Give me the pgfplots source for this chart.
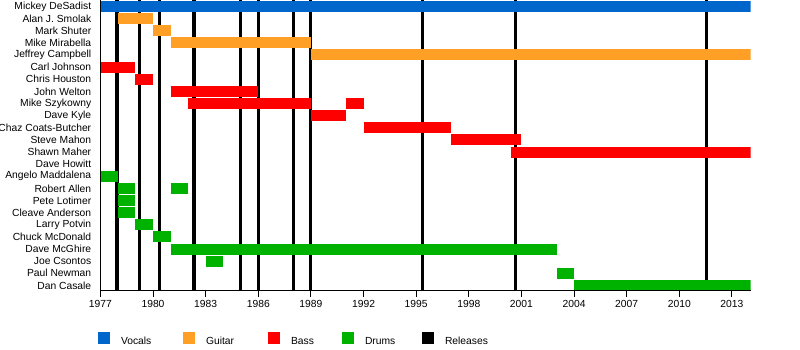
\documentclass[border=0pt]{standalone}
\usepackage{fontspec}
\setmainfont{Liberation Sans}
\usepackage{pgfplots}
\pgfplotsset{compat=1.18}
\definecolor{cVocals}{RGB}{0,102,204}
\definecolor{cGuitar}{RGB}{255,159,37}
\definecolor{cBass}{RGB}{255,0,0}
\definecolor{cDrums}{RGB}{0,178,0}
\newcommand{\lblfont}{\fontsize{10.3}{12}\selectfont}
\begin{document}
\begin{tikzpicture}
\path[use as bounding box] (0,0) rectangle (800pt,350pt);
\begin{axis}[
  at={(100.4pt,349.6pt)}, anchor=north west,
  scale only axis, width=650.3pt, height=290.5pt,
  xmin=1977, xmax=2014.07, ymin=-0.5, ymax=23.45,
  y dir=reverse,
  axis x line*=bottom, axis y line*=left,
  axis line style={black, line width=0.9pt},
  axis on top,
  unbounded coords=jump,
  xtick={1977,1980,...,2013},
  minor x tick num=2,
  tick align=outside,
  major tick length=6pt, minor tick length=3.3pt,
  tick style={black, line width=0.9pt},
  xticklabel style={inner sep=0pt, yshift=-3.3pt, font=\lblfont},
  /pgf/number format/.cd, 1000 sep={}, assume math mode=true,
  /pgfplots/.cd,
  ytick={0,...,23},
  yticklabels={Mickey DeSadist,Alan J. Smolak,Mark Shuter,Mike Mirabella,Jeffrey Campbell,Carl Johnson,Chris Houston,John Welton,Mike Szykowny,Dave Kyle,Chaz Coats-Butcher,Steve Mahon,Shawn Maher,Dave Howitt,Angelo Maddalena,Robert Allen,Pete Lotimer,Cleave Anderson,Larry Potvin,Chuck McDonald,Dave McGhire,Joe Csontos,Paul Newman,Dan Casale},
  ytick style={draw=none},
  yticklabel style={inner sep=0pt, anchor=east, xshift=-3pt, font=\lblfont},
  legend columns=5,
  legend style={draw=none, fill=none, at={(-0.0032,-0.1828)}, anchor=south west,
    inner sep=0pt, outer sep=0pt, column sep=0pt,
    nodes={inner sep=0pt, text depth=0pt}, cells={anchor=base west},
    font=\lblfont},
  legend image code/.code={\fill[#1, draw=none, line width=0pt] (0pt,0pt) rectangle (11.7pt,11.7pt);},
]
% Releases (behind bars)
\addplot[black, line width=3.2pt, forget plot] coordinates {
(1977.95,-0.5) (1977.95,23.45) (nan,nan)
(1979.22,-0.5) (1979.22,23.45) (nan,nan)
(1980.36,-0.5) (1980.36,23.45) (nan,nan)
(1982.34,-0.5) (1982.34,23.45) (nan,nan)
(1984.98,-0.5) (1984.98,23.45) (nan,nan)
(1986.0,-0.5) (1986.0,23.45) (nan,nan)
(1988.0,-0.5) (1988.0,23.45) (nan,nan)
(1988.97,-0.5) (1988.97,23.45) (nan,nan)
(1995.35,-0.5) (1995.35,23.45) (nan,nan)
(2000.65,-0.5) (2000.65,23.45) (nan,nan)
(2011.54,-0.5) (2011.54,23.45)
};
% Vocals
\addplot[cVocals, line width=11pt] coordinates {(1977,0) (2014.07,0)};
\addlegendentry{\hspace*{11pt}\makebox[62.3pt][l]{Vocals}}
% Guitar
\addplot[cGuitar, line width=11pt] coordinates {
(1978,1) (1980,1) (nan,nan)
(1980,2) (1981,2) (nan,nan)
(1981,3) (1989,3) (nan,nan)
(1989,4) (2014.07,4)
};
\addlegendentry{\hspace*{11pt}\makebox[62.3pt][l]{Guitar}}
% Bass
\addplot[cBass, line width=11pt] coordinates {
(1977,5) (1979,5) (nan,nan)
(1979,6) (1980,6) (nan,nan)
(1981,7) (1986,7) (nan,nan)
(1982,8) (1989,8) (nan,nan)
(1991,8) (1992,8) (nan,nan)
(1989,9) (1991,9) (nan,nan)
(1992,10) (1997,10) (nan,nan)
(1997,11) (2001,11) (nan,nan)
(2000.4,12) (2014.07,12)
};
\addlegendentry{\hspace*{11pt}\makebox[51.3pt][l]{Bass}}
% Drums
\addplot[cDrums, line width=11pt] coordinates {
(1977,14) (1978,14) (nan,nan)
(1978,15) (1979,15) (nan,nan)
(1981,15) (1982,15) (nan,nan)
(1978,16) (1979,16) (nan,nan)
(1978,17) (1979,17) (nan,nan)
(1979,18) (1980,18) (nan,nan)
(1980,19) (1981,19) (nan,nan)
(1981,20) (2003,20) (nan,nan)
(1983,21) (1984,21) (nan,nan)
(2003,22) (2004,22) (nan,nan)
(2004,23) (2014.07,23)
};
\addlegendentry{\hspace*{11pt}\makebox[57.3pt][l]{Drums}}
\addlegendimage{black}
\addlegendentry{\hspace*{11pt}Releases}
\end{axis}
\end{tikzpicture}
\end{document}
